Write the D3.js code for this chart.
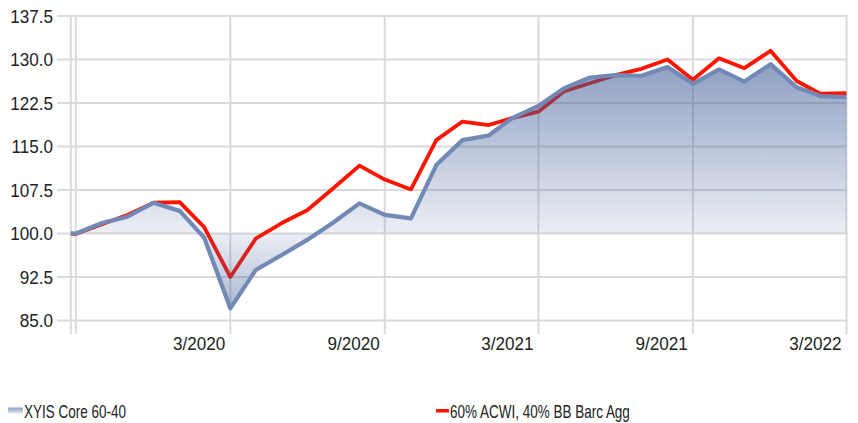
<!DOCTYPE html>
<html>
<head>
<meta charset="utf-8">
<script src="https://cdn.jsdelivr.net/npm/d3@7"></script>
<style>
  html, body { margin: 0; padding: 0; background: #fff; }
  svg { display: block; }
  text { font-family: "Liberation Sans", Arial, sans-serif; fill: #222; }
</style>
</head>
<body>
<svg id="chart" width="858" height="423"></svg>
<script>
// ---- data ----
const dates = ["2019-09-24","2019-09-30","2019-10-31","2019-11-30","2019-12-31","2020-01-31","2020-02-29","2020-03-31","2020-04-30","2020-05-31","2020-06-30","2020-07-31","2020-08-31","2020-09-30","2020-10-31","2020-11-30","2020-12-31","2021-01-31","2021-02-28","2021-03-31","2021-04-30","2021-05-31","2021-06-30","2021-07-31","2021-08-31","2021-09-30","2021-10-31","2021-11-30","2021-12-31","2022-01-31","2022-02-28","2022-03-31"];
const xyisCore = [100, 100, 101.8, 102.9, 105.3, 103.9, 99.3, 87.1, 93.7, 96.3, 98.9, 101.9, 105.2, 103.2, 102.6, 111.8, 116.1, 116.9, 119.9, 122.0, 125.0, 126.9, 127.3, 127.2, 128.7, 125.8, 128.3, 126.2, 129.2, 125.2, 123.7, 123.5];
const benchmark = [100, 99.9, 101.6, 103.2, 105.3, 105.4, 101.1, 92.5, 99.1, 101.8, 104.0, 107.8, 111.7, 109.3, 107.6, 116.1, 119.3, 118.7, 119.9, 121.0, 124.5, 125.9, 127.3, 128.4, 130.0, 126.5, 130.2, 128.5, 131.5, 126.3, 124.1, 124.2];
const seriesNames = ["XYIS Core 60-40", "60% ACWI, 40% BB Barc Agg"];
const yTicks = [85, 92.5, 100, 107.5, 115, 122.5, 130, 137.5];
const xGridDates = ["2019-09-30","2020-03-31","2020-09-30","2021-03-31","2021-09-30","2022-03-31"];
const xTickLabels = ["", "3/2020", "9/2020", "3/2021", "9/2021", "3/2022"];
const threshold = 100;

// ---- layout ----
const plotLeft = 70.8, plotRight = 846.5, plotTop = 16, plotBottom = 334;
const parse = d3.utcParse("%Y-%m-%d");
const pts = dates.map((d, i) => ({ date: parse(d), a: xyisCore[i], b: benchmark[i] }));

const x = d3.scaleUtc()
  .domain([parse(dates[0]), parse(dates[dates.length - 1])])
  .range([plotLeft, plotRight]);
const yPxPerUnit = 43.5 / 7.5;
const y = d3.scaleLinear()
  .domain([137.5 - (plotBottom - plotTop) / yPxPerUnit, 137.5])
  .range([plotBottom, plotTop]);

const svg = d3.select("#chart");
const defs = svg.append("defs");

const grad = defs.append("linearGradient")
  .attr("id", "areaGrad").attr("gradientUnits", "userSpaceOnUse")
  .attr("x1", 0).attr("x2", 0).attr("y1", 50).attr("y2", plotBottom);
const y100 = y(threshold);
const off100 = (y100 - 50) / (plotBottom - 50);
grad.append("stop").attr("offset", 0).attr("stop-color", "rgb(60,90,150)").attr("stop-opacity", 0.62);
grad.append("stop").attr("offset", off100).attr("stop-color", "rgb(60,90,150)").attr("stop-opacity", 0.1);
grad.append("stop").attr("offset", 1).attr("stop-color", "rgb(60,90,150)").attr("stop-opacity", 0.55);

const legGrad = defs.append("linearGradient")
  .attr("id", "legGrad").attr("x1", 0).attr("x2", 0).attr("y1", 0).attr("y2", 1);
legGrad.append("stop").attr("offset", 0).attr("stop-color", "#8fa0c2");
legGrad.append("stop").attr("offset", 1).attr("stop-color", "#dfe5ef");

// ---- grid ----
const grid = svg.append("g");
grid.selectAll("line.h").data(yTicks).join("line")
  .attr("x1", 57).attr("x2", plotRight + 1)
  .attr("y1", d => y(d)).attr("y2", d => y(d))
  .attr("stroke", "#dadada").attr("stroke-width", 2);
const vLines = [parse(dates[0])].concat(xGridDates.map(parse));
grid.selectAll("line.v").data(vLines).join("line")
  .attr("x1", d => x(d)).attr("x2", d => x(d))
  .attr("y1", plotTop).attr("y2", plotBottom)
  .attr("stroke", "#dadada").attr("stroke-width", 2);

// narrow text helper (horizontal compression)
function narrowText(sel, px, py, sx) {
  sel.attr("transform", (d, i) => `translate(${px(d, i)},${py(d, i)}) scale(${sx},1)`);
}

// ---- y labels ----
const yl = svg.append("g").selectAll("text").data(yTicks).join("text")
  .attr("dy", "0.36em").attr("text-anchor", "end")
  .style("font-size", "19px")
  .text(d => d3.format(".1f")(d));
narrowText(yl, () => 53, d => y(d), 0.9);

// ---- x labels ----
const xl = svg.append("g").selectAll("text").data(xGridDates).join("text")
  .attr("text-anchor", "end")
  .style("font-size", "19px")
  .text((d, i) => xTickLabels[i]);
narrowText(xl, d => x(parse(d)) - 5, () => 350, 0.9);

// ---- series ----
const lineB = d3.line().x(d => x(d.date)).y(d => y(d.b));
svg.append("path").datum(pts).attr("d", lineB)
  .attr("fill", "none").attr("stroke", "#ff1400").attr("stroke-width", 3.8)
  .attr("stroke-linejoin", "round");

const areaA = d3.area().x(d => x(d.date)).y0(y(threshold)).y1(d => y(d.a));
svg.append("path").datum(pts).attr("d", areaA).attr("fill", "url(#areaGrad)");

const lineA = d3.line().x(d => x(d.date)).y(d => y(d.a));
svg.append("path").datum(pts).attr("d", lineA)
  .attr("fill", "none").attr("stroke", "#7189b4").attr("stroke-width", 4.2)
  .attr("stroke-linejoin", "round");

// ---- legend ----
const leg = svg.append("g");
leg.append("rect").attr("x", 8).attr("y", 407.5).attr("width", 15).attr("height", 6).attr("fill", "url(#legGrad)");
leg.append("text").attr("transform", "translate(24,418) scale(0.75,1)").style("font-size", "18px").text(seriesNames[0]);
leg.append("rect").attr("x", 436).attr("y", 409).attr("width", 13).attr("height", 3.5).attr("fill", "#ff1400");
leg.append("text").attr("transform", "translate(450,418) scale(0.75,1)").style("font-size", "18px").text(seriesNames[1]);
</script>
</body>
</html>
